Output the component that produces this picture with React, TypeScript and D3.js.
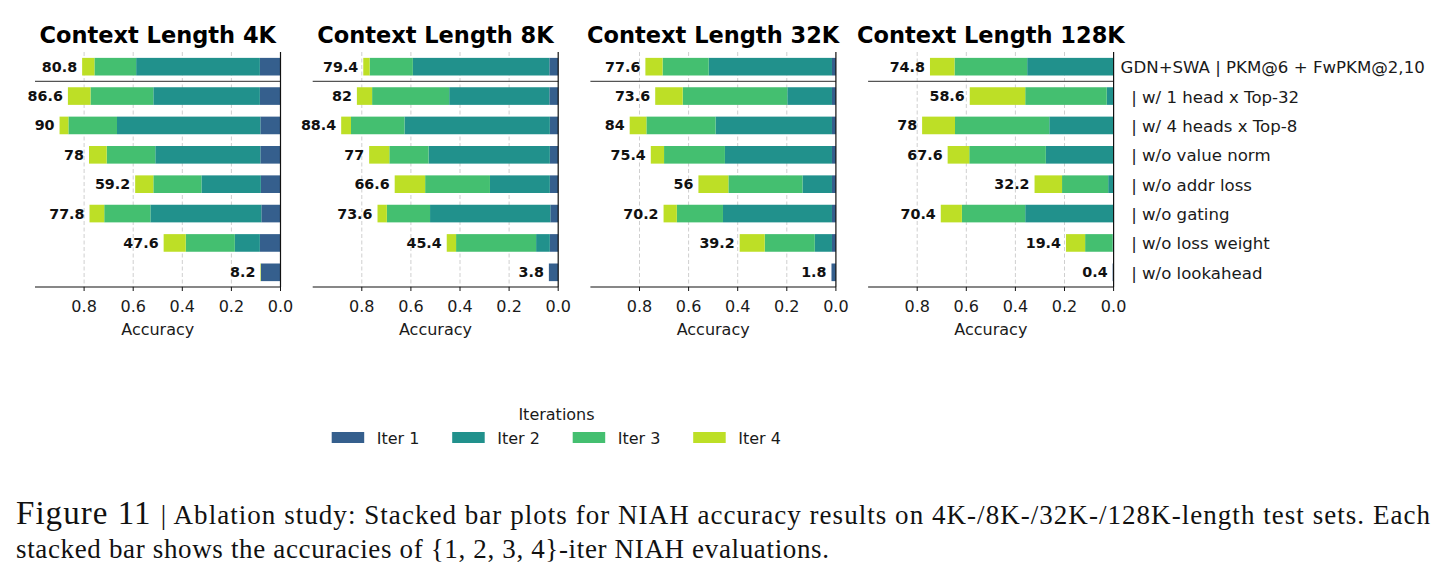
import * as d3 from "d3";
import { useEffect, useRef } from "react";

// ablation variants, top to bottom (leading spaces keep the "|" indented)
const variants = [
  "GDN+SWA | PKM@6 + FwPKM@2,10",
  "  | w/ 1 head x Top-32",
  "  | w/ 4 heads x Top-8",
  "  | w/o value norm",
  "  | w/o addr loss",
  "  | w/o gating",
  "  | w/o loss weight",
  "  | w/o lookahead",
];

const contexts = ["4K", "8K", "32K", "128K"];
const iterKeys = ["iter1", "iter2", "iter3", "iter4"];
const iterNames = ["Iter 1", "Iter 2", "Iter 3", "Iter 4"];
const xTicks = [0, 20, 40, 60, 80];

// accuracy (%) gained at each NIAH iteration
const iter1_4K = [8.4, 8.4, 8.2, 8.2, 8.0, 7.8, 8.4, 8.0];
const iter2_4K = [50.4, 43.4, 58.4, 42.8, 24.2, 45.2, 10.2, 0];
const iter3_4K = [17.0, 25.6, 19.8, 19.8, 19.6, 18.8, 20.0, 0];
const iter4_4K = [5.0, 9.2, 3.6, 7.2, 7.4, 6.0, 9.0, 0.2];

const iter1_8K = [3.6, 3.6, 3.4, 3.4, 3.4, 3.2, 3.4, 3.8];
const iter2_8K = [55.6, 40.8, 59.2, 49.4, 24.4, 49.0, 5.6, 0];
const iter3_8K = [17.6, 31.4, 21.8, 16.0, 26.4, 17.6, 32.6, 0];
const iter4_8K = [2.6, 6.2, 4.0, 8.2, 12.4, 3.8, 3.8, 0];

const iter1_32K = [1.6, 1.6, 1.6, 1.6, 1.6, 1.6, 1.6, 1.8];
const iter2_32K = [50.2, 18.2, 47.4, 43.6, 12.0, 44.4, 7.0, 0];
const iter3_32K = [18.8, 42.6, 28.2, 24.8, 30.2, 18.8, 20.4, 0];
const iter4_32K = [7.0, 11.2, 6.8, 5.4, 12.2, 5.4, 10.2, 0];

const iter1_128K = [0.2, 0, 0, 0, 0, 0, 0, 0.4];
const iter2_128K = [35.0, 2.8, 26.2, 27.6, 2.2, 36.0, 0.4, 0];
const iter3_128K = [29.6, 33.2, 38.4, 31.2, 18.8, 25.8, 11.2, 0];
const iter4_128K = [10.0, 22.6, 13.4, 8.8, 11.2, 8.6, 7.8, 0];

const panelSeries = [
  [iter1_4K, iter2_4K, iter3_4K, iter4_4K],
  [iter1_8K, iter2_8K, iter3_8K, iter4_8K],
  [iter1_32K, iter2_32K, iter3_32K, iter4_32K],
  [iter1_128K, iter2_128K, iter3_128K, iter4_128K],
];

const colors = [0.3, 0.5, 0.7, 0.9].map((t) => d3.interpolateViridis(t));
const sans = "DejaVu Sans, sans-serif";

export default function App() {
  const ref = useRef<SVGSVGElement>(null);

  useEffect(() => {
    if (!ref.current) return;
    const svg = d3.select(ref.current);
    svg.selectAll("*").remove();

    const width = 1442;
    const height = 576;
    svg.attr("viewBox", `0 0 ${width} ${height}`);
    svg.append("rect").attr("width", width).attr("height", height).attr("fill", "#fff");

    const top = 52;
    const bottom = 287;
    const panelW = 245.5;
    const panelLeft = (i: number) => 35 + i * 277.7;

    const y = d3
      .scaleBand<string>()
      .domain(variants)
      .range([top, bottom])
      .paddingInner(0.4)
      .paddingOuter(0.2);

    const stack = d3.stack<Record<string, number>>().keys(iterKeys);

    contexts.forEach((ctx, pi) => {
      const left = panelLeft(pi);
      const x = d3.scaleLinear().domain([100, 0]).range([left, left + panelW]);
      const g = svg.append("g");

      const rows = variants.map((_, ri) => {
        const row: Record<string, number> = {};
        iterKeys.forEach((k, ki) => (row[k] = panelSeries[pi][ki][ri]));
        return row;
      });
      const layers = stack(rows);

      // dashed vertical grid
      g.append("g")
        .selectAll("line")
        .data(xTicks.filter((t) => t > 0))
        .join("line")
        .attr("x1", (d) => x(d))
        .attr("x2", (d) => x(d))
        .attr("y1", top)
        .attr("y2", bottom)
        .attr("stroke", "#cfcfcf")
        .attr("stroke-width", 1)
        .attr("stroke-dasharray", "4,2.5");

      // stacked bars, iteration 1 anchored at zero on the right
      g.append("g")
        .selectAll("g")
        .data(layers)
        .join("g")
        .attr("fill", (_, i) => colors[i])
        .selectAll("rect")
        .data((d) => d.map((seg, ri) => ({ seg, ri })))
        .join("rect")
        .attr("x", (d) => x(d.seg[1]))
        .attr("width", (d) => Math.max(0, x(d.seg[0]) - x(d.seg[1])))
        .attr("y", (d) => y(variants[d.ri])!)
        .attr("height", y.bandwidth());

      // total accuracy labels
      g.append("g")
        .selectAll("text")
        .data(layers[layers.length - 1].map((seg, ri) => ({ total: seg[1], ri })))
        .join("text")
        .attr("x", (d) => x(d.total) - 5)
        .attr("y", (d) => y(variants[d.ri])! + y.bandwidth() / 2 + 5)
        .attr("text-anchor", "end")
        .attr("font-family", sans)
        .attr("font-weight", "bold")
        .attr("font-size", 14.3)
        .attr("fill", "#111")
        .text((d) => String(Math.round(d.total * 10) / 10));

      // separator between the full model and its ablations
      const sepY = (y(variants[0])! + y.bandwidth() + y(variants[1])!) / 2;
      g.append("line")
        .attr("x1", left)
        .attr("x2", left + panelW)
        .attr("y1", sepY)
        .attr("y2", sepY)
        .attr("stroke", "#555")
        .attr("stroke-width", 1.2);

      // spines: bottom and right (zero)
      g.append("line")
        .attr("x1", left)
        .attr("x2", left + panelW)
        .attr("y1", bottom)
        .attr("y2", bottom)
        .attr("stroke", "#111")
        .attr("stroke-width", 1.2);
      g.append("line")
        .attr("x1", x(0))
        .attr("x2", x(0))
        .attr("y1", top)
        .attr("y2", bottom)
        .attr("stroke", "#111")
        .attr("stroke-width", 1.2);

      const ticks = g.append("g").selectAll("g").data(xTicks).join("g");
      ticks
        .append("line")
        .attr("x1", (d) => x(d))
        .attr("x2", (d) => x(d))
        .attr("y1", bottom)
        .attr("y2", bottom + 4)
        .attr("stroke", "#111")
        .attr("stroke-width", 1);
      ticks
        .append("text")
        .attr("x", (d) => x(d))
        .attr("y", 311.5)
        .attr("text-anchor", "middle")
        .attr("font-family", sans)
        .attr("font-size", 16)
        .attr("fill", "#1a1a1a")
        .text((d) => (d / 100).toFixed(1));

      g.append("text")
        .attr("x", left + panelW / 2)
        .attr("y", 334.5)
        .attr("text-anchor", "middle")
        .attr("font-family", sans)
        .attr("font-size", 16)
        .attr("fill", "#1a1a1a")
        .text("Accuracy");

      g.append("text")
        .attr("x", left + panelW / 2)
        .attr("y", 43)
        .attr("text-anchor", "middle")
        .attr("font-family", sans)
        .attr("font-weight", "bold")
        .attr("font-size", 22.5)
        .attr("fill", "#000")
        .text(`Context Length ${ctx}`);

      // variant names on the right of the last panel
      if (pi === contexts.length - 1) {
        g.append("g")
          .selectAll("text")
          .data(variants)
          .join("text")
          .attr("x", x(0) + 7)
          .attr("y", (d) => y(d)! + y.bandwidth() / 2 + 6.5)
          .attr("font-family", sans)
          .attr("font-size", 16.6)
          .attr("fill", "#1a1a1a")
          .style("white-space", "pre")
          .text((d) => d);
      }
    });

    // legend
    const legend = svg.append("g");
    legend
      .append("text")
      .attr("x", 556.5)
      .attr("y", 420)
      .attr("text-anchor", "middle")
      .attr("font-family", sans)
      .attr("font-size", 16)
      .attr("fill", "#1a1a1a")
      .text("Iterations");
    const items = legend
      .selectAll("g")
      .data(iterNames)
      .join("g")
      .attr("transform", (_, i) => `translate(${331.7 + i * 120.5},0)`);
    items
      .append("rect")
      .attr("y", 432)
      .attr("width", 32.5)
      .attr("height", 11)
      .attr("fill", (_, i) => colors[i]);
    items
      .append("text")
      .attr("x", 45)
      .attr("y", 444)
      .attr("font-family", sans)
      .attr("font-size", 16)
      .attr("fill", "#1a1a1a")
      .text((d) => d);

    // caption
    const serif = "Liberation Serif, serif";
    const cap1 = svg
      .append("text")
      .attr("x", 16)
      .attr("y", 523.5)
      .attr("font-family", serif)
      .attr("fill", "#111")
      .attr("textLength", 1414)
      .attr("lengthAdjust", "spacing");
    cap1.append("tspan").attr("font-size", 33).text("Figure 11 ");
    cap1
      .append("tspan")
      .attr("font-size", 27)
      .text(
        "| Ablation study: Stacked bar plots for NIAH accuracy results on 4K-/8K-/32K-/128K-length test sets. Each"
      );
    svg
      .append("text")
      .attr("x", 16)
      .attr("y", 557.5)
      .attr("font-family", serif)
      .attr("font-size", 27)
      .attr("fill", "#111")
      .attr("textLength", 813)
      .attr("lengthAdjust", "spacing")
      .text("stacked bar shows the accuracies of {1, 2, 3, 4}-iter NIAH evaluations.");
  }, []);

  return (
    <svg
      ref={ref}
      width={1442}
      height={576}
      style={{ position: "absolute", left: 0, top: 0, display: "block" }}
      role="img"
      aria-label="NIAH ablation stacked bars"
    />
  );
}
